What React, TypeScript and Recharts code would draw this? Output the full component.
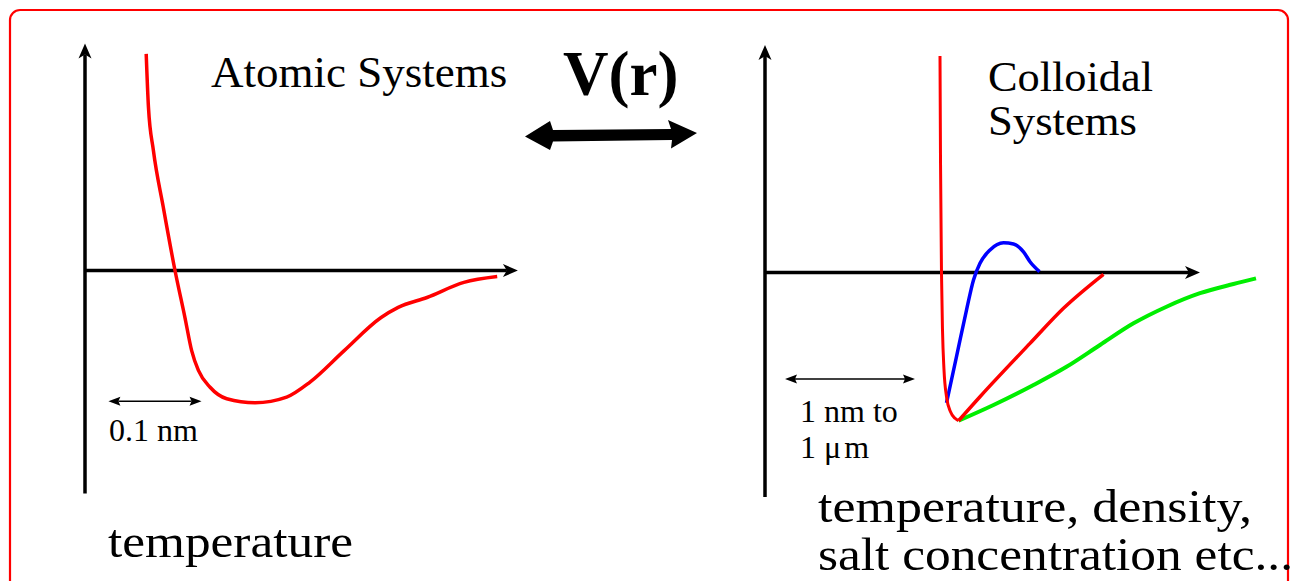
import { LineChart, Line, XAxis, YAxis, ReferenceLine } from 'recharts';

// atomic pair potential (arbitrary units, r along the axis, V up/down)
const atomicR = [1.36, 1.41, 1.52, 1.74, 2.0, 2.22, 2.37, 2.52, 2.78, 3.15, 3.78, 4.48, 5.0, 5.76, 6.58, 6.96, 7.6, 8.42, 9.16];
const atomicV = [9.63, 7.26, 5.33, 2.81, 0, -2.08, -3.56, -4.44, -5.19, -5.7, -5.88, -5.63, -4.96, -3.56, -2.09, -1.64, -1.2, -0.53, -0.27];

// colloidal: hard wall down to the minimum (red)
const wallR = [3.5, 3.51, 3.53, 3.55, 3.58, 3.63, 3.71, 3.8, 3.87];
const wallV = [9.62, 5.0, -0.04, -2.56, -4.33, -5.52, -6.19, -6.48, -6.59];

// colloidal: short-range rise out of the minimum (red)
const rampR = [3.87, 4.3, 5.3, 5.97, 6.77];
const rampV = [-6.59, -5.52, -3.15, -1.59, -0.08];

// colloidal with a repulsive barrier (blue)
const barrierR = [3.63, 3.83, 4.03, 4.17, 4.3, 4.5, 4.77, 4.97, 5.17, 5.3, 5.49];
const barrierV = [-5.79, -3.74, -1.67, -0.33, 0.41, 1.0, 1.32, 1.27, 0.92, 0.48, 0.04];

// colloidal long-range attraction (green)
const longR = [3.87, 4.57, 5.37, 6.03, 6.7, 7.37, 8.03, 8.7, 9.37, 9.82];
const longV = [-6.59, -5.89, -5.0, -4.19, -3.22, -2.26, -1.52, -0.92, -0.51, -0.26];

const toPoints = (rs: number[], vs: number[]) => rs.map((r, i) => ({ r, v: vs[i] }));

const FONT = "'Liberation Serif', 'Times New Roman', serif";

type ArrowOpts = { sw: number; len: number; half: number; notch: number; both?: boolean };

const arrowShape = (o: ArrowOpts) => (p: any) => {
  const { x1, y1, x2, y2 } = p;
  const dx = x2 - x1;
  const dy = y2 - y1;
  const L = Math.hypot(dx, dy) || 1;
  const ux = dx / L;
  const uy = dy / L;
  const nx = -uy;
  const ny = ux;
  const head = (tx: number, ty: number, ax: number, ay: number) => {
    const bx = tx - ax * o.len;
    const by = ty - ay * o.len;
    const mx = tx - ax * (o.len - o.notch);
    const my = ty - ay * (o.len - o.notch);
    return `M${tx},${ty} L${bx + nx * o.half},${by + ny * o.half} L${mx},${my} L${bx - nx * o.half},${by - ny * o.half} Z`;
  };
  const inset = o.len - o.notch;
  const sx = o.both ? x1 + ux * inset : x1;
  const sy = o.both ? y1 + uy * inset : y1;
  return (
    <g>
      <line x1={sx} y1={sy} x2={x2 - ux * inset} y2={y2 - uy * inset} stroke="#000" strokeWidth={o.sw} />
      <path d={head(x2, y2, ux, uy)} fill="#000" />
      {o.both && <path d={head(x1, y1, -ux, -uy)} fill="#000" />}
    </g>
  );
};

const axisArrow = arrowShape({ sw: 3.5, len: 15, half: 6.5, notch: 4 });
const dimArrow = arrowShape({ sw: 1.5, len: 12, half: 4.5, notch: 2, both: true });

const M = 20;

const AtomicChart = () => (
  <div style={{ position: 'absolute', left: 85 - M, top: 40.5 - M }}>
    <LineChart width={450 + 2 * M} height={454.5 + 2 * M} margin={{ top: M, right: M, bottom: M, left: M }}>
      <XAxis type="number" dataKey="r" domain={[0, 10]} allowDataOverflow hide />
      <YAxis type="number" dataKey="v" domain={[-10, 10.2]} allowDataOverflow hide />
      <ReferenceLine segment={[{ x: 0, y: -9.91 }, { x: 0, y: 10.09 }]} ifOverflow="visible" shape={axisArrow} />
      <ReferenceLine segment={[{ x: 0, y: 0 }, { x: 9.62, y: 0 }]} ifOverflow="visible" shape={axisArrow} />
      <ReferenceLine segment={[{ x: 0.52, y: -5.81 }, { x: 2.59, y: -5.81 }]} ifOverflow="visible" shape={dimArrow} />
      <Line data={toPoints(atomicR, atomicV)} dataKey="v" type="monotone" stroke="#ff0000" strokeWidth={3.5} dot={false} activeDot={false} isAnimationActive={false} />
    </LineChart>
  </div>
);

const ColloidChart = () => (
  <div style={{ position: 'absolute', left: 765 - M, top: 43 - M }}>
    <LineChart width={500 + 2 * M} height={454.5 + 2 * M} margin={{ top: M, right: M, bottom: M, left: M }}>
      <XAxis type="number" dataKey="r" domain={[0, 10]} allowDataOverflow hide />
      <YAxis type="number" dataKey="v" domain={[-10, 10.2]} allowDataOverflow hide />
      <ReferenceLine segment={[{ x: 0, y: -9.98 }, { x: 0, y: 10.11 }]} ifOverflow="visible" shape={axisArrow} />
      <ReferenceLine segment={[{ x: 0, y: 0 }, { x: 8.7, y: 0 }]} ifOverflow="visible" shape={axisArrow} />
      <ReferenceLine segment={[{ x: 0.4, y: -4.73 }, { x: 3.0, y: -4.73 }]} ifOverflow="visible" shape={dimArrow} />
      <Line data={toPoints(barrierR, barrierV)} dataKey="v" type="monotone" stroke="#0000ff" strokeWidth={3.5} dot={false} activeDot={false} isAnimationActive={false} />
      <Line data={toPoints(longR, longV)} dataKey="v" type="monotone" stroke="#00ee00" strokeWidth={4} dot={false} activeDot={false} isAnimationActive={false} />
      <Line data={toPoints(rampR, rampV)} dataKey="v" type="monotone" stroke="#ff0000" strokeWidth={3.5} dot={false} activeDot={false} isAnimationActive={false} />
      <Line data={toPoints(wallR, wallV)} dataKey="v" type="monotone" stroke="#ff0000" strokeWidth={3} dot={false} activeDot={false} isAnimationActive={false} />
    </LineChart>
  </div>
);

export default function App() {
  return (
    <div style={{ position: 'absolute', left: 0, top: 0, width: 1297, height: 581, background: '#fff', overflow: 'hidden', fontFamily: FONT }}>
      <svg width={1297} height={581} style={{ position: 'absolute', left: 0, top: 0 }}>
        <rect x={10} y={10} width={1278} height={640} rx={10} fill="none" stroke="#ff0000" strokeWidth={2.2} />
      </svg>
      <AtomicChart />
      <ColloidChart />
      <svg width={1297} height={581} style={{ position: 'absolute', left: 0, top: 0, pointerEvents: 'none' }} fontFamily={FONT} fill="#000">
        <path d="M525,136.5 L550,121 L553,130 L671,129 L668,120 L697,133 L671,148.5 L672,140 L553,141.5 L550,150 Z" fill="#000" />
        <text x={211} y={87} fontSize={45}>Atomic Systems</text>
        <text x={563} y={95} fontSize={63} fontWeight="bold">V(r)</text>
        <text x={988} y={91} fontSize={42} textLength={165} lengthAdjust="spacingAndGlyphs">Colloidal</text>
        <text x={988} y={135} fontSize={42} textLength={149} lengthAdjust="spacingAndGlyphs">Systems</text>
        <text x={109} y={441} fontSize={32}>0.1 nm</text>
        <text x={800} y={422} fontSize={32}>
          <tspan x={800} y={422}>1 nm to</tspan>
          <tspan x={800} y={458}>1 μ</tspan>
          <tspan dx={3}>m</tspan>
        </text>
        <text x={108} y={557} fontSize={46} textLength={245} lengthAdjust="spacingAndGlyphs">temperature</text>
        <text x={818} y={522} fontSize={46} textLength={434} lengthAdjust="spacingAndGlyphs">temperature, density,</text>
        <text x={818} y={570} fontSize={46} textLength={475} lengthAdjust="spacingAndGlyphs">salt concentration etc...</text>
      </svg>
    </div>
  );
}
